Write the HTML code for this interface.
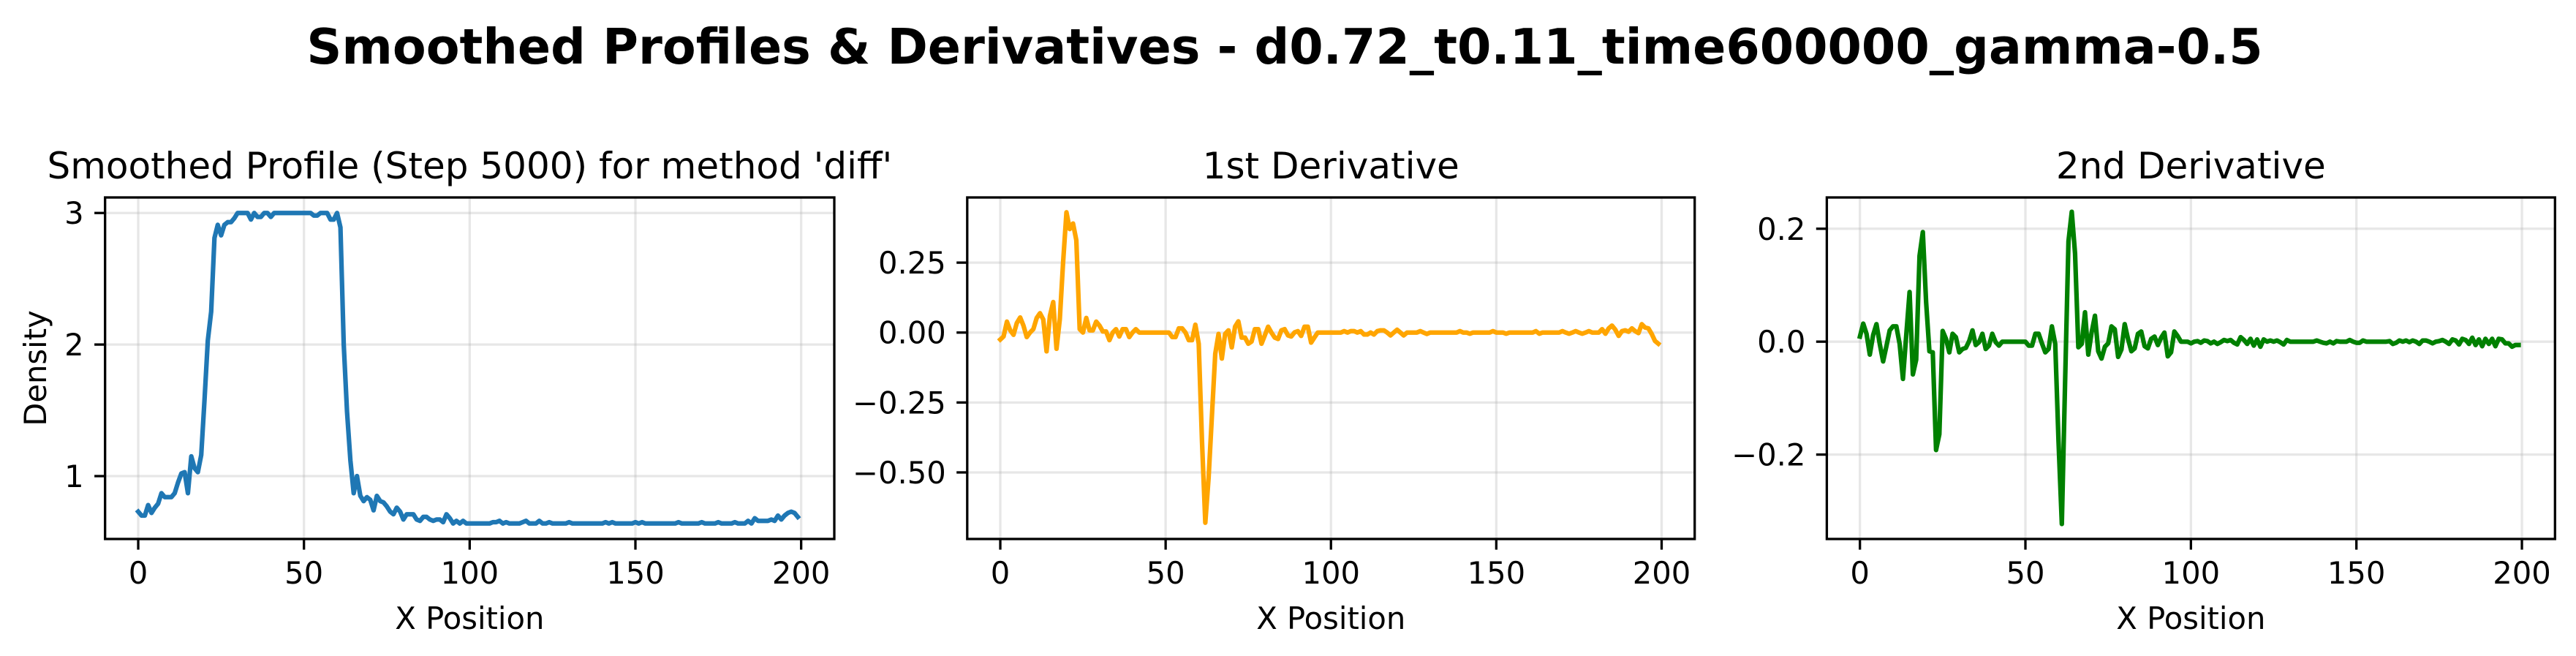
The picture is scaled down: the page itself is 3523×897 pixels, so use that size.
<!DOCTYPE html>
<html><head><meta charset="utf-8"><title>Smoothed Profiles & Derivatives</title>
<style>html,body{margin:0;padding:0;background:#fff;width:3523px;height:897px;overflow:hidden}
svg{display:block;font-family:"DejaVu Sans","Liberation Sans",sans-serif}</style></head>
<body>
<svg id="fig" xmlns="http://www.w3.org/2000/svg" width="3523" height="897" viewBox="0 0 3523 897">
<rect width="3523" height="897" fill="#fff"/>
<text x="1757" y="87" text-anchor="middle" font-size="66.7" font-weight="bold">Smoothed Profiles &amp; Derivatives - d0.72_t0.11_time600000_gamma-0.5</text>
</svg>
<script>
const xTicks = [0, 50, 100, 150, 200];
const profileTicks = [1, 2, 3];
const d1Ticks = [-0.5, -0.25, 0, 0.25];
const d2Ticks = [-0.2, 0, 0.2];
const profileTickLabels = ["1", "2", "3"];
const d1TickLabels = ["\u22120.50", "\u22120.25", "0.00", "0.25"];
const d2TickLabels = ["\u22120.2", "0.0", "0.2"];

const profile = [
.73,.70,.70,.78,.72,.76,.79,.87,.84,.84,
.84,.87,.95,1.02,1.03,.87,1.15,1.06,1.03,1.16,
1.58,2.03,2.25,2.81,2.91,2.83,2.91,2.93,2.93,2.96,
3.0,3.0,3.0,3.0,2.95,3.0,2.97,2.97,3.0,3.0,
2.97,3.0,3.0,3.0,3.0,3.0,3.0,3.0,3.0,3.0,
3.0,3.0,3.0,2.98,2.98,3.0,3.0,3.0,2.95,2.95,
3.0,2.89,2.0,1.49,1.12,.87,1.0,.85,.81,.84,
.82,.74,.85,.81,.80,.77,.73,.71,.76,.73,
.67,.71,.71,.71,.67,.66,.69,.69,.67,.66,
.67,.67,.65,.71,.68,.64,.66,.64,.66,.64,
.64,.64,.64,.64,.64,.64,.64,.65,.65,.66,
.64,.65,.64,.64,.64,.64,.65,.66,.64,.64,
.64,.66,.64,.64,.65,.64,.64,.64,.64,.64,
.65,.64,.64,.64,.64,.64,.64,.64,.64,.64,
.64,.65,.64,.65,.64,.64,.64,.64,.64,.64,
.65,.64,.65,.64,.64,.64,.64,.64,.64,.64,
.64,.64,.64,.65,.64,.64,.64,.64,.64,.64,
.65,.64,.64,.64,.64,.65,.64,.64,.64,.64,
.65,.64,.64,.64,.66,.64,.68,.66,.66,.66,
.66,.67,.66,.70,.67,.70,.72,.73,.72,.69];

const deriv1 = [
-.025,-.014,.039,.008,-.008,.034,.054,.025,-.016,0,
.012,.052,.069,.047,-.067,.06,.109,-.058,.047,.25,
.43,.37,.39,.33,.012,0,.052,.008,.008,.039,
.025,.004,.004,-.027,0,.012,-.014,.012,.012,-.016,
0,.012,0,0,0,0,0,0,0,0,
0,0,-.016,-.016,.015,.015,0,-.027,-.027,.028,
-.04,-.39,-.68,-.52,-.3,-.076,-.005,-.093,-.005,.008,
-.053,.021,.04,-.018,-.018,-.04,-.032,.012,.012,-.04,
-.01,.021,0,-.018,-.023,.008,.012,-.01,-.014,.001,
.005,-.012,.021,.021,-.036,-.018,0,0,0,0,
0,0,0,0,.005,0,.005,.005,0,.005,
-.007,-.007,0,-.007,.005,.008,.008,0,-.01,0,
.01,0,-.01,0,0,0,0,.005,0,-.005,
0,0,0,0,0,0,0,0,0,.005,
0,0,-.004,0,0,0,0,0,0,.005,
0,0,0,-.004,0,0,0,0,0,0,
0,0,.005,-.004,0,0,0,0,0,0,
.005,0,-.004,0,.005,0,-.004,0,.005,0,
0,0,.012,-.004,.015,.025,.01,-.012,.005,.008,
.003,.015,.005,-.002,.03,.018,.015,-.005,-.03,-.04];

const deriv2 = [
.009,.032,.014,-.023,.012,.031,-.004,-.035,-.008,.02,
.027,.027,-.004,-.066,.011,.088,-.058,-.032,.152,.194,
.07,-.017,-.019,-.192,-.164,.019,.005,-.019,.014,.008,
-.019,-.013,-.011,.001,.02,-.006,-.001,.014,-.013,-.007,
.014,-.001,-.007,0,0,0,0,0,0,0,
0,-.007,-.007,.014,.014,-.003,-.019,-.013,.027,-.004,
-.177,-.323,-.07,.178,.23,.156,-.01,-.004,.052,-.023,
.016,.046,-.017,-.03,-.009,-.003,.027,.022,-.027,-.014,
.031,.005,-.017,-.012,.014,.018,-.008,-.012,.005,.009,
-.006,.007,.016,-.026,-.019,.018,.01,0,0,0,
-.003,0,.001,-.002,.002,.001,-.003,0,-.004,-.001,
.003,.001,.003,-.002,-.005,.008,.003,-.004,.005,-.007,
.004,-.009,.004,0,.002,0,.002,-.001,-.005,.003,
0,0,0,0,0,0,0,0,.002,0,
-.002,-.003,0,-.003,.001,0,0,0,.003,0,
-.002,-.002,.002,0,0,0,0,0,0,0,
.001,-.004,-.002,.002,0,.002,-.001,.002,0,-.004,
.002,.002,0,-.003,0,.001,.003,0,-.004,.004,
.002,-.005,.005,.003,-.004,.007,-.006,.004,-.008,.005,
-.004,.005,-.008,.005,.004,-.003,-.003,-.009,-.006,-.006];

const NS = "http://www.w3.org/2000/svg";
const svg = document.getElementById("fig");
function mk(tag, attrs, parent) {
  const e = document.createElementNS(NS, tag);
  for (const k in attrs) e.setAttribute(k, attrs[k]);
  (parent || svg).appendChild(e);
  return e;
}

function drawPanel(cfg) {
  const g = mk("g", {});
  
  
  const L = cfg.left, R = cfg.right, T = 270, B = 737;
  const sx = v => L + (v - (-10)) / 220 * (R - L);
  const sy = v => B - (v - cfg.ymin) / (cfg.ymax - cfg.ymin) * (B - T);
  // grid
  xTicks.forEach(t => {
    const gl = mk("line", {x1: sx(t), x2: sx(t), y1: T, y2: B, stroke: "#b0b0b0", "stroke-opacity": 0.3, "stroke-width": 3.3}, g);
    
    
  });
  cfg.yticks.forEach(t => {
    const gl = mk("line", {x1: L, x2: R, y1: sy(t), y2: sy(t), stroke: "#b0b0b0", "stroke-opacity": 0.3, "stroke-width": 3.3}, g);
    
    
  });
  // series
  const pts = cfg.data.map((v, i) => sx(i).toFixed(1) + "," + sy(v).toFixed(1)).join(" ");
  const clip = mk("clipPath", {id: cfg.name + "-clip"}, g);
  mk("rect", {x: L, y: T, width: R - L, height: B - T}, clip);
  const line = mk("polyline", {points: pts, fill: "none", stroke: cfg.color, "stroke-width": 6.25, "stroke-linejoin": "round", "stroke-linecap": "square", "clip-path": "url(#" + cfg.name + "-clip)"}, g);
  
  
  // frame
  const fr = mk("rect", {x: L, y: T, width: R - L, height: B - T, fill: "none", stroke: "#000", "stroke-width": 3.3}, g);
  
  
  // x ticks
  xTicks.forEach(t => {
    mk("line", {x1: sx(t), x2: sx(t), y1: B, y2: B + 14.6, stroke: "#000", "stroke-width": 3.3}, g);
    const tl = mk("text", {x: sx(t), y: 798, "text-anchor": "middle", "font-size": 41.7}, g);
    tl.textContent = String(t);
    
    
  });
  cfg.yticks.forEach((t, i) => {
    mk("line", {x1: L - 14.6, x2: L, y1: sy(t), y2: sy(t), stroke: "#000", "stroke-width": 3.3}, g);
    const tl = mk("text", {x: L - 29, y: sy(t) + 15, "text-anchor": "end", "font-size": 41.7}, g);
    tl.textContent = cfg.ylabels[i];
    
    
  });
  const xl = mk("text", {x: (L + R) / 2, y: 860, "text-anchor": "middle", "font-size": 41.7}, g);
  xl.textContent = "X Position";
  
  
  const ti = mk("text", {x: (L + R) / 2, y: 244, "text-anchor": "middle", "font-size": 50}, g);
  ti.textContent = cfg.title;
  
  
  if (cfg.ylabel) {
    const yl = mk("text", {x: 0, y: 0, "text-anchor": "middle", "font-size": 41.7, transform: "translate(63," + ((T + B) / 2) + ") rotate(-90)"}, g);
    yl.textContent = cfg.ylabel;
    
    
  }
}

drawPanel({name: "profile-panel", left: 143.7, right: 1141, ymin: 0.522, ymax: 3.118, yticks: profileTicks, ylabels: profileTickLabels, data: profile, color: "#1f77b4", title: "Smoothed Profile (Step 5000) for method 'diff'", ylabel: "Density"});
drawPanel({name: "first-derivative-panel", left: 1322.8, right: 2317.7, ymin: -0.738, ymax: 0.483, yticks: d1Ticks, ylabels: d1TickLabels, data: deriv1, color: "#ffa500", title: "1st Derivative"});
drawPanel({name: "second-derivative-panel", left: 2498.4, right: 3494.3, ymin: -0.3495, ymax: 0.2554, yticks: d2Ticks, ylabels: d2TickLabels, data: deriv2, color: "#008000", title: "2nd Derivative"});
</script>
</body></html>
